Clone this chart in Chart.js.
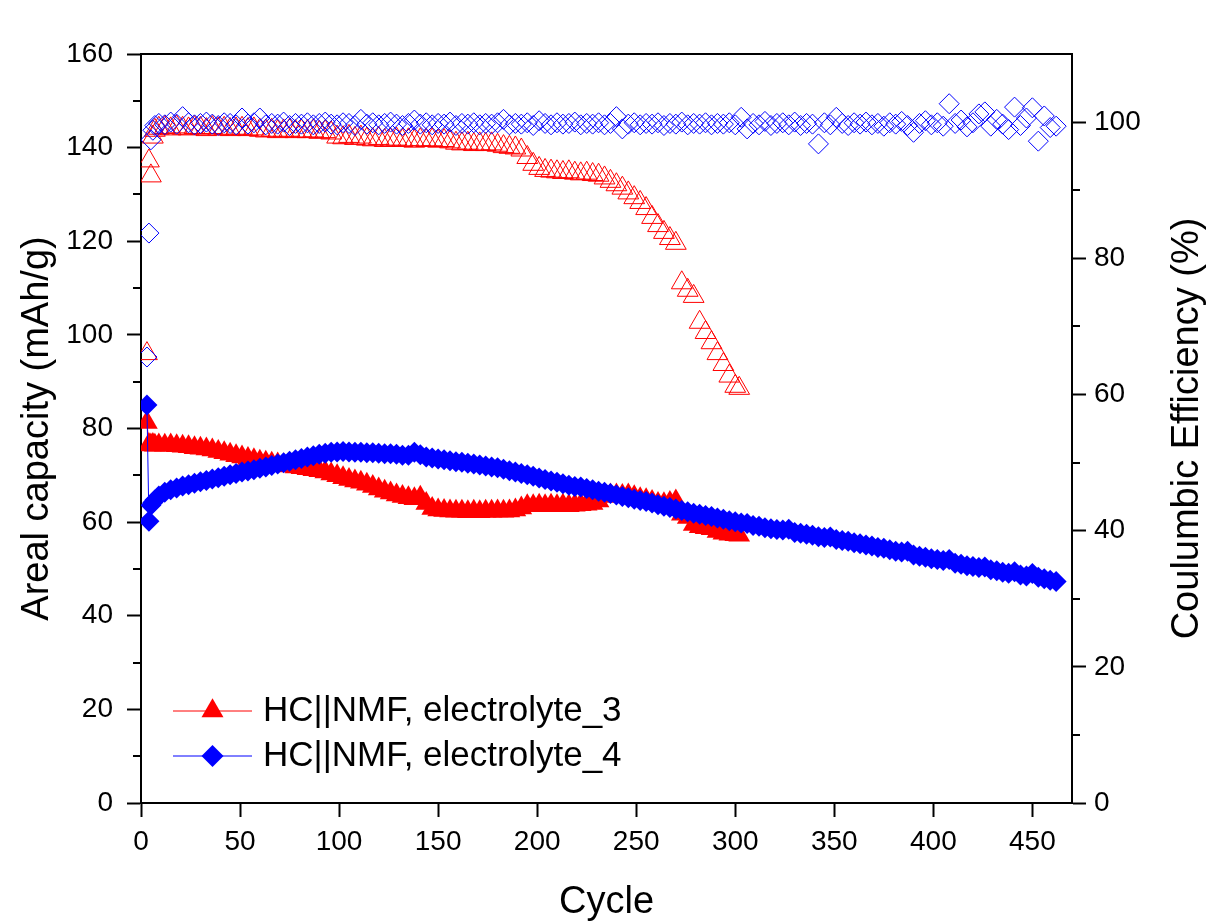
<!DOCTYPE html>
<html>
<head>
<meta charset="utf-8">
<title>HC||NMF cycling</title>
<script src="https://cdn.jsdelivr.net/npm/chart.js@4/dist/chart.umd.min.js"></script>
<style>
  html, body { margin: 0; padding: 0; background: #fff; }
  #cap { display: block; }
</style>
</head>
<body>
<canvas id="cap" width="1209" height="922"></canvas>
<script>
// cycle numbers (sampled every 3rd cycle after the first few)
const cyclesE3 = [
  3, 4, 5, 6, 7, 9, 12, 15, 18, 21,
  24, 27, 30, 33, 36, 39, 42, 45, 48, 51,
  54, 57, 60, 63, 66, 69, 72, 75, 78, 81,
  84, 87, 90, 93, 96, 99, 102, 105, 108, 111,
  114, 117, 120, 123, 126, 129, 132, 135, 138, 141,
  144, 147, 150, 153, 156, 159, 162, 165, 168, 171,
  174, 177, 180, 183, 186, 189, 192, 195, 198, 201,
  204, 207, 210, 213, 216, 219, 222, 225, 228, 231,
  234, 237, 240, 243, 246, 249, 252, 255, 258, 261,
  264, 267, 270, 273, 276, 279, 282, 285, 288, 291,
  294, 297, 300, 302
];
// areal capacity, electrolyte_3 (mAh/g)
const capE3 = [
  81.3, 76.6, 76.5, 76.6, 76.4, 76.5, 76.4, 76.5, 76.3, 76.2,
  76.1, 75.9, 75.8, 75.6, 75.4, 75.1, 74.8, 74.5, 74.2, 73.9,
  73.6, 73.3, 73.0, 72.8, 72.6, 72.4, 72.2, 72.0, 71.8, 71.6,
  71.4, 71.2, 71.0, 70.7, 70.3, 69.9, 69.5, 69.1, 68.8, 68.5,
  68.1, 67.6, 67.1, 66.6, 66.2, 65.8, 65.5, 65.2, 65.0, 65.3,
  64.0, 62.9, 62.6, 62.5, 62.4, 62.3, 62.3, 62.2, 62.3, 62.2,
  62.3, 62.3, 62.4, 62.3, 62.4, 62.6, 63.0, 63.5, 63.5, 63.6,
  63.5, 63.6, 63.5, 63.6, 63.5, 63.6, 63.7, 63.8, 64.0, 64.5,
  65.5, 65.8, 65.8, 65.7, 65.8, 65.4, 65.0, 64.8, 64.4, 64.0,
  63.9, 64.2, 64.5, 61.7, 61.0, 59.5, 59.0, 58.8, 58.6, 58.0,
  57.6, 57.4, 57.3, 57.2
];
// coulombic efficiency, electrolyte_3 (%)
const ceE3 = [
  66.0, 94.3, 92.1, 97.8, 98.8, 99.1, 99.2, 99.0, 99.3, 99.1,
  99.0, 99.2, 99.1, 98.9, 99.2, 99.0, 99.1, 98.9, 99.0, 99.1,
  98.9, 99.0, 98.8, 98.7, 98.8, 98.6, 98.7, 98.8, 98.6, 98.7,
  98.6, 98.7, 98.5, 98.6, 98.4, 97.8, 97.7, 97.9, 97.6, 97.8,
  97.5, 97.4, 97.6, 97.3, 97.4, 97.5, 97.3, 97.4, 97.2, 97.4,
  97.3, 97.4, 97.2, 97.3, 97.1, 96.9, 96.8, 96.9, 96.7, 96.8,
  96.7, 96.8, 96.6, 96.4, 96.3, 96.2, 95.9, 94.8, 93.8, 93.2,
  92.9, 92.8, 92.7, 92.6, 92.7, 92.5, 92.4, 92.5, 92.3, 92.2,
  91.8, 91.3, 90.8, 90.3, 89.6, 88.9, 88.2, 87.3, 86.0, 84.8,
  83.8, 82.9, 82.2, 76.4, 75.3, 74.4, 70.6, 69.1, 67.6, 66.0,
  64.4, 62.7, 61.2, 60.9
];

const cyclesE4 = [
  3, 4, 5, 6, 7, 9, 12, 15, 18, 21,
  24, 27, 30, 33, 36, 39, 42, 45, 48, 51,
  54, 57, 60, 63, 66, 69, 72, 75, 78, 81,
  84, 87, 90, 93, 96, 99, 102, 105, 108, 111,
  114, 117, 120, 123, 126, 129, 132, 135, 138, 141,
  144, 147, 150, 153, 156, 159, 162, 165, 168, 171,
  174, 177, 180, 183, 186, 189, 192, 195, 198, 201,
  204, 207, 210, 213, 216, 219, 222, 225, 228, 231,
  234, 237, 240, 243, 246, 249, 252, 255, 258, 261,
  264, 267, 270, 273, 276, 279, 282, 285, 288, 291,
  294, 297, 300, 303, 306, 309, 312, 315, 318, 321,
  324, 327, 330, 333, 336, 339, 342, 345, 348, 351,
  354, 357, 360, 363, 366, 369, 372, 375, 378, 381,
  384, 387, 390, 393, 396, 399, 402, 405, 408, 411,
  414, 417, 420, 423, 426, 429, 432, 435, 438, 441,
  444, 447, 450, 453, 456, 459, 462
];
// areal capacity, electrolyte_4 (mAh/g)
const capE4 = [
  85.0, 60.2, 63.6, 64.2, 64.7, 65.6, 66.4, 66.9, 67.3, 67.7,
  68.0, 68.3, 68.6, 68.9, 69.2, 69.5, 69.8, 70.1, 70.4, 70.7,
  70.9, 71.2, 71.5, 71.8, 72.1, 72.4, 72.7, 73.0, 73.3, 73.6,
  73.9, 74.2, 74.5, 74.7, 74.9, 75.0, 75.1, 75.0, 74.9, 74.9,
  74.8, 74.8, 74.7, 74.6, 74.6, 74.5, 74.3, 74.3, 74.9, 74.4,
  73.9, 73.7, 73.5, 73.3, 73.1, 72.9, 72.8, 72.6, 72.4, 72.2,
  72.0, 71.8, 71.6, 71.3, 71.0, 70.7, 70.4, 70.1, 69.8, 69.4,
  69.1, 68.8, 68.5, 68.2, 67.9, 67.6, 67.5, 67.2, 66.9, 66.6,
  66.4, 66.1, 65.8, 65.5, 65.2, 64.9, 64.6, 64.4, 64.1, 63.7,
  63.4, 63.1, 62.8, 62.5, 62.2, 61.9, 61.7, 61.4, 61.2, 60.9,
  60.6, 60.3, 60.1, 59.8, 59.7, 59.3, 59.1, 58.8, 58.6, 58.4,
  58.3, 58.5, 57.8, 57.6, 57.4, 57.2, 56.9, 56.7, 56.8, 56.3,
  56.1, 55.9, 55.6, 55.4, 55.1, 54.9, 54.6, 54.4, 54.1, 53.8,
  53.6, 53.8, 53.0, 52.7, 52.5, 52.2, 52.0, 51.8, 52.0, 51.2,
  51.0, 50.7, 50.5, 50.3, 50.4, 49.8, 49.6, 49.3, 49.1, 49.4,
  48.7, 48.5, 49.0, 48.2, 47.9, 47.6, 47.3
];
// coulombic efficiency, electrolyte_4 (%)
const ceE4 = [
  65.5, 83.7, 97.4, 98.8, 99.5, 99.8, 99.6, 100.0, 99.7, 100.8,
  99.9, 99.6, 99.8, 100.0, 99.7, 99.5, 99.9, 99.8, 99.6, 100.6,
  99.7, 99.9, 100.6, 99.6, 99.8, 99.7, 100.0, 99.5, 99.8, 99.7,
  99.9, 99.6, 99.8, 100.0, 99.7, 99.6, 99.9, 99.8, 99.5, 100.4,
  99.7, 99.9, 99.6, 99.8, 100.0, 99.7, 99.5, 99.8, 100.3, 99.7,
  99.9, 99.6, 99.8, 99.7, 100.0, 99.5, 99.8, 99.7, 99.9, 99.6,
  99.8, 99.7, 99.9, 100.4, 99.6, 99.8, 99.7, 99.9, 99.5, 100.2,
  99.8, 99.6, 99.9, 99.7, 99.8, 100.0, 99.6, 99.8, 99.7, 99.9,
  99.6, 99.8, 100.8, 99.0, 99.7, 99.9, 99.6, 99.8, 99.7, 99.9,
  99.5, 99.8, 99.7, 100.0, 99.6, 99.8, 99.7, 99.9, 99.6, 99.8,
  99.7, 99.9, 99.6, 100.7, 99.0, 99.8, 99.6, 100.1, 99.5, 99.8,
  99.9, 99.6, 100.0, 99.5, 99.8, 99.7, 96.8, 99.9, 99.6, 100.7,
  99.8, 99.5, 99.9, 99.7, 100.0, 99.6, 99.8, 99.4, 99.9, 99.7,
  100.1, 99.5, 98.5, 99.8, 100.2, 99.6, 99.9, 99.4, 102.7, 99.8,
  100.3, 99.3, 99.9, 101.2, 101.5, 99.4, 100.4, 99.7, 98.9, 102.2,
  99.5, 100.6, 102.1, 97.2, 100.9, 99.2, 99.4
];

const xTicks = [0, 50, 100, 150, 200, 250, 300, 350, 400, 450];
const seriesNames = ['HC||NMF, electrolyte_3', 'HC||NMF, electrolyte_4'];

const RED = '#ff0000';
const BLUE = '#0000ff';
const FONT = '"Liberation Sans", Arial, Helvetica, sans-serif';

const pts = (xs, ys) => xs.map((x, i) => ({ x: x, y: ys[i] }));

// minor ticks, top frame line, right-hand title, in-plot legend
const decorations = {
  id: 'decorations',
  afterDraw(chart) {
    const { ctx, chartArea: a, scales } = chart;
    ctx.save();
    ctx.strokeStyle = '#000';
    ctx.lineWidth = 2;
    ctx.beginPath();
    ctx.moveTo(a.left - 1, a.top);
    ctx.lineTo(a.right + 1, a.top);
    ctx.stroke();

    ctx.beginPath();
    for (let v = 10; v < 160; v += 20) {
      const y = Math.round(scales.y.getPixelForValue(v));
      ctx.moveTo(a.left - 8, y);
      ctx.lineTo(a.left, y);
    }
    for (let v = 10; v < 110; v += 20) {
      const y = Math.round(scales.y1.getPixelForValue(v));
      ctx.moveTo(a.right, y);
      ctx.lineTo(a.right + 8, y);
    }
    ctx.stroke();

    // right axis title reads bottom-to-top like the left one
    ctx.fillStyle = '#000';
    ctx.font = '38px ' + FONT;
    ctx.textAlign = 'center';
    ctx.textBaseline = 'middle';
    ctx.translate(1188, (a.top + a.bottom) / 2);
    ctx.rotate(-Math.PI / 2);
    ctx.fillText('Coulumbic Efficiency (%)', 0, 0);
    ctx.restore();

    // legend
    ctx.save();
    const rows = [
      { y: 711, color: RED, shape: 'tri' },
      { y: 756, color: BLUE, shape: 'dia' }
    ];
    rows.forEach((r, i) => {
      ctx.strokeStyle = r.color;
      ctx.lineWidth = 1;
      ctx.beginPath();
      ctx.moveTo(173, r.y);
      ctx.lineTo(252, r.y);
      ctx.stroke();
      ctx.fillStyle = r.color;
      ctx.beginPath();
      const cx = 212.5;
      if (r.shape === 'tri') {
        const rad = 12.7;
        ctx.moveTo(cx, r.y - rad);
        ctx.lineTo(cx + rad * Math.sin(Math.PI * 2 / 3), r.y + rad / 2);
        ctx.lineTo(cx - rad * Math.sin(Math.PI * 2 / 3), r.y + rad / 2);
      } else {
        const rad = 11;
        ctx.moveTo(cx, r.y - rad);
        ctx.lineTo(cx + rad, r.y);
        ctx.lineTo(cx, r.y + rad);
        ctx.lineTo(cx - rad, r.y);
      }
      ctx.closePath();
      ctx.fill();
      ctx.fillStyle = '#000';
      ctx.font = '35px ' + FONT;
      ctx.textAlign = 'left';
      ctx.textBaseline = 'middle';
      ctx.fillText(seriesNames[i], 263, r.y);
    });
    ctx.restore();
  }
};

const axisGrid = {
  display: true,
  drawOnChartArea: false,
  drawTicks: true,
  tickLength: 14,
  tickWidth: 2,
  tickColor: '#000'
};
const axisBorder = { display: true, color: '#000', width: 2 };

new Chart(document.getElementById('cap'), {
  type: 'scatter',
  data: {
    datasets: [
      {
        label: seriesNames[1],
        data: pts(cyclesE4, capE4),
        yAxisID: 'y',
        showLine: true,
        borderColor: BLUE,
        borderWidth: 1,
        pointStyle: 'rectRot',
        pointRadius: 10.5,
        pointBackgroundColor: BLUE,
        pointBorderColor: BLUE,
        pointBorderWidth: 0,
        order: 0
      },
      {
        label: seriesNames[1] + ' CE',
        data: pts(cyclesE4, ceE4),
        yAxisID: 'y1',
        showLine: false,
        pointStyle: 'rectRot',
        pointRadius: 10,
        pointBackgroundColor: 'rgba(0,0,0,0)',
        pointBorderColor: BLUE,
        pointBorderWidth: 1,
        order: 1
      },
      {
        label: seriesNames[0],
        data: pts(cyclesE3, capE3),
        yAxisID: 'y',
        showLine: true,
        borderColor: RED,
        borderWidth: 1,
        pointStyle: 'triangle',
        pointRadius: 12.5,
        pointBackgroundColor: RED,
        pointBorderColor: RED,
        pointBorderWidth: 0,
        order: 2
      },
      {
        label: seriesNames[0] + ' CE',
        data: pts(cyclesE3, ceE3),
        yAxisID: 'y1',
        showLine: false,
        pointStyle: 'triangle',
        pointRadius: 12,
        pointBackgroundColor: 'rgba(0,0,0,0)',
        pointBorderColor: RED,
        pointBorderWidth: 1,
        order: 3
      }
    ]
  },
  options: {
    responsive: false,
    animation: false,
    events: [],
    layout: { padding: { top: 54, left: 0, right: 0, bottom: 0 } },
    plugins: {
      legend: { display: false },
      tooltip: { enabled: false }
    },
    scales: {
      x: {
        type: 'linear',
        position: 'bottom',
        min: 0,
        max: 470,
        afterBuildTicks(s) { s.ticks = xTicks.map(v => ({ value: v })); },
        afterFit(s) { s.height = 119; },
        grid: axisGrid,
        border: axisBorder,
        ticks: { color: '#000', padding: 8, font: { family: FONT, size: 28 } },
        title: {
          display: true,
          text: 'Cycle',
          color: '#000',
          font: { family: FONT, size: 38 },
          padding: { top: 0, bottom: -3 }
        }
      },
      y: {
        type: 'linear',
        position: 'left',
        min: 0,
        max: 160,
        ticks: { stepSize: 20, color: '#000', padding: 14, font: { family: FONT, size: 28 } },
        afterFit(s) { s.width = 141; },
        grid: axisGrid,
        border: axisBorder,
        title: {
          display: true,
          text: 'Areal capacity (mAh/g)',
          color: '#000',
          font: { family: FONT, size: 38 },
          padding: { top: 15, bottom: 0 }
        }
      },
      y1: {
        type: 'linear',
        position: 'right',
        min: 0,
        max: 110,
        ticks: { stepSize: 20, includeBounds: false, color: '#000', padding: 8, font: { family: FONT, size: 28 } },
        afterFit(s) { s.width = 137; },
        grid: axisGrid,
        border: axisBorder
      }
    }
  },
  plugins: [decorations]
});
</script>
</body>
</html>
